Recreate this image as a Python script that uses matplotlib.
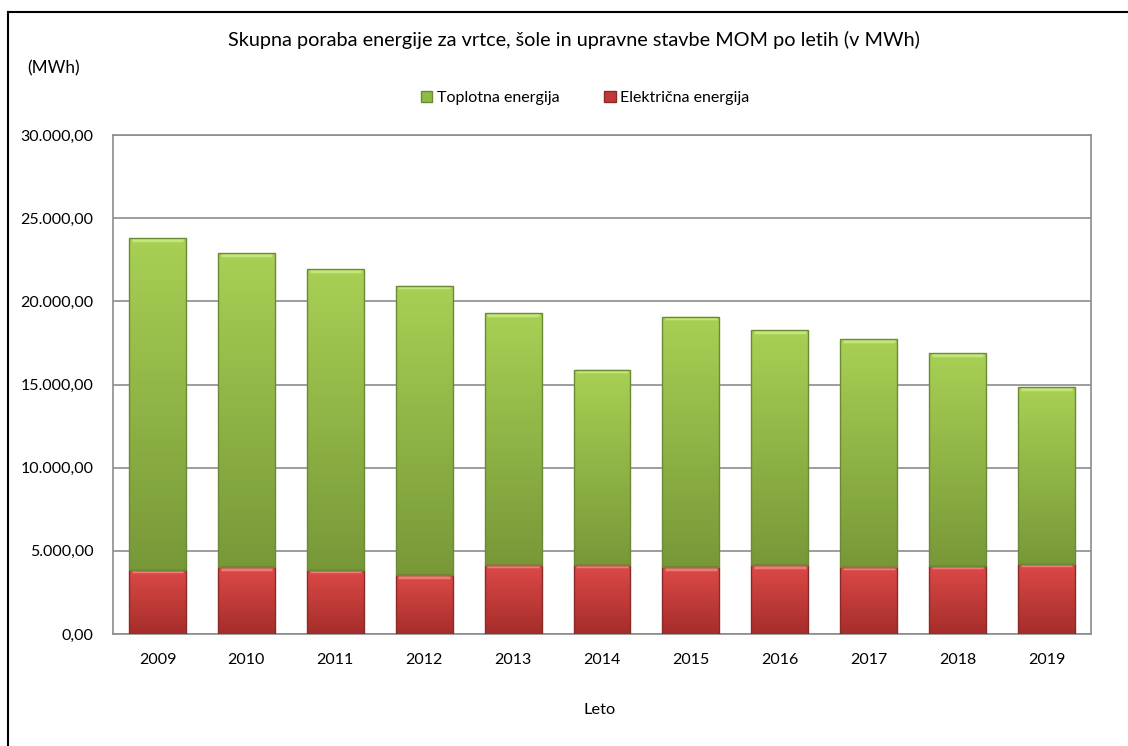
import numpy as np
import matplotlib.pyplot as plt
from matplotlib.ticker import FuncFormatter
from matplotlib.lines import Line2D
from matplotlib.patches import Patch

# data (MWh)
years = ['2009', '2010', '2011', '2012', '2013', '2014', '2015', '2016', '2017', '2018', '2019']
electric = [3850, 4010, 3870, 3530, 4150, 4150, 4010, 4130, 4045, 4105, 4210]
total = [23790, 22890, 21925, 20940, 19280, 15870, 19075, 18255, 17715, 16875, 14830]
thermal = [t - e for t, e in zip(total, electric)]

plt.rcParams['font.family'] = ['Lato', 'DejaVu Sans']

fig = plt.figure(figsize=(11.28, 7.46), dpi=100)
ax = fig.add_axes([0.1002, 0.1501, 0.8670, 0.6689])

x = np.arange(len(years))
w = 0.64


def gradient_bars(bars, top_col, bot_col, edge, light):
    grad = np.linspace(0, 1, 256).reshape(-1, 1)
    top = np.array(top_col) / 255.0
    bot = np.array(bot_col) / 255.0
    img = top[None, None, :] * (1 - grad[:, :, None]) + bot[None, None, :] * grad[:, :, None]
    for b in bars:
        x0, y0 = b.get_x(), b.get_y()
        x1, y1 = x0 + b.get_width(), y0 + b.get_height()
        im = ax.imshow(img, extent=[x0, x1, y0, y1], aspect='auto', zorder=3,
                       interpolation='bilinear', origin='upper')
        im.set_clip_path(b)
        b.set_edgecolor(edge)
        b.set_linewidth(1.0)
        b.set_zorder(4)
        b.set_facecolor('none')
        # bevel highlight along the top edge
        ax.plot([x0 + 0.03, x1 - 0.03], [y1 - 80, y1 - 80], color=light, lw=2.5,
                solid_capstyle='butt', zorder=3.5)


b_el = ax.bar(x, electric, w, color=(0.85, 0.28, 0.27))
b_th = ax.bar(x, thermal, w, bottom=electric, color=(0.65, 0.81, 0.32))
gradient_bars(b_el, (220, 74, 71), (165, 45, 43), '#8a2a28', '#f07a76')
gradient_bars(b_th, (168, 208, 84), (120, 152, 56), '#6a8a35', '#c4e57a')

ax.set_xlim(-0.5, len(years) - 0.5)
ax.set_ylim(0, 30000)
ax.set_yticks(np.arange(0, 30001, 5000))
ax.yaxis.set_major_formatter(FuncFormatter(
    lambda v, p: f'{v:,.2f}'.replace(',', 'X').replace('.', ',').replace('X', '.')))
ax.set_xticks(x)
ax.set_xticklabels(years)
ax.tick_params(axis='both', length=0, labelsize=11.5, colors='#000000')
ax.tick_params(axis='x', pad=14)
ax.tick_params(axis='y', pad=14)
ax.grid(axis='y', color='#8c8c8c', linewidth=1.2, zorder=0)
ax.set_axisbelow(True)
for s in ax.spines.values():
    s.set_color('#8c8c8c')
    s.set_linewidth(1.2)

fig.text(0.509, 0.946, 'Skupna poraba energije za vrtce, šole in upravne stavbe MOM po letih (v MWh)',
         ha='center', va='center', fontsize=14.3)
fig.text(0.024, 0.909, '(MWh)', ha='left', va='center', fontsize=12.3)
fig.text(0.532, 0.048, 'Leto', ha='center', va='center', fontsize=11.8)

handles = [Patch(facecolor='#8fbc45', edgecolor='#6a8a35', label='Toplotna energija'),
           Patch(facecolor='#c0393a', edgecolor='#8a2a28', label='Električna energija')]
fig.legend(handles=handles, loc='center', bbox_to_anchor=(0.519, 0.869), ncol=2, frameon=False,
           fontsize=11.5, handlelength=0.7, handleheight=0.7, handletextpad=0.3, columnspacing=2.8)

# outer frame (left and top edges only)
fig.add_artist(Line2D([0.0071, 0.0071], [0, 0.984], transform=fig.transFigure, color='black', lw=1.5))
fig.add_artist(Line2D([0.0071, 1.0], [0.984, 0.984], transform=fig.transFigure, color='black', lw=1.5))

fig.savefig('out.png', dpi=100)
